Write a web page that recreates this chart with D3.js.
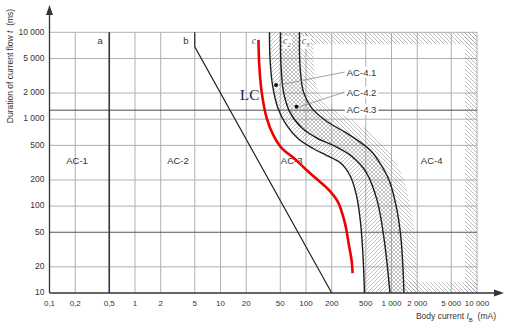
<!DOCTYPE html>
<html><head><meta charset="utf-8">
<script src="https://cdn.jsdelivr.net/npm/d3@7"></script>
<style>body{margin:0;background:#fff} svg{display:block}</style>
</head><body>
<svg id="chart" width="510" height="327"></svg>
<script>
// ---------- data ----------
const xTicks = [0.1,0.2,0.5,1,2,5,10,20,50,100,200,500,1000,2000,5000,10000];
const xTickLabels = ["0,1","0,2","0,5","1","2","5","10","20","50","100","200","500","1 000","2 000","5 000","10 000"];
const yTicks = [10,20,50,100,200,500,1000,2000,5000,10000];
const yTickLabels = ["10","20","50","100","200","500","1 000","2 000","5 000","10 000"];

const curveA = [[0.5,10],[0.5,10000]];
const curveB = [[5,10000],[5,6800],[200,10]];
const curveC1 = [[37.4,10000],[37.9,5060],[40.6,2470],[47,1340],[59.2,855],[80.5,600],[121,460],[176,382],[250,317],[327,225],[390,132],[434,65],[464,27],[483,10]];
const curveC2 = [[50.3,10000],[51,4200],[54.6,2050],[65,1200],[89.8,790],[134,607],[218,490],[341,376],[504,246],[677,117],[817,42.5],[960,10]];
const curveC3 = [[84,10000],[85,4200],[93.5,2050],[117,1340],[176,940],[286,710],[429,545],[592,420],[754,298],[935,200],[1130,102],[1291,42.5],[1400,10]];
const curveLC = [[27.8,8150],[28.4,4200],[30.3,2050],[34.7,1030],[41.5,656],[52,465],[72.5,356],[102,259],[140,197],[185,154],[236,112],[284,65],[318,35.5],[341,23.9],[351,16.9]];

const refLineT = 1270;
const zoneNames = ["AC-1","AC-2","AC-3","AC-4"];
const zoneAt = [[0.21,329],[3.18,329],[68,329],[2950,329]];
const curveNames = ["a","b"];
const curveNameAt = [[0.39,7900],[3.95,7900]];
const cNames = [["c",""],["c","2"],["c","3"]];
const cNameAt = [[24.7,7300],[60,7300],[99,7300]];
const subZoneNames = ["AC-4.1","AC-4.2","AC-4.3"];
const subZoneAt = [[300,3400],[300,2000],[300,1270]];
const subZoneDots = [[44.6,2470],[77.6,1390],null];
const lcLabel = "LC";
const lcAt = [16.9,1660];

// ---------- setup ----------
const svg = d3.select("#chart");
const x = d3.scaleLog().domain([0.1,10000]).range([49.5,477]);
const y = d3.scaleLog().domain([10,10000]).range([293,32.3]);
const X0 = x(0.1), X1 = x(10000), Y0 = y(10), Y1 = y(10000);
const sans = "'Liberation Sans', Arial, sans-serif";
const serif = "'Liberation Serif', 'Times New Roman', serif";

svg.append("rect").attr("width",510).attr("height",327).attr("fill","#fff");

const defs = svg.append("defs");
function pattern(id, d){
  const p = defs.append("pattern").attr("id",id).attr("patternUnits","userSpaceOnUse")
    .attr("width",4).attr("height",4);
  p.append("path").attr("d",d).attr("stroke","#8c8c8c").attr("stroke-width",0.55).attr("fill","none");
}
const fwd = "M-1,1L1,-1M0,4L4,0M3,5L5,3";
const back = "M-1,3L1,5M0,0L4,4M3,-1L5,1";
pattern("hFwd", fwd);
pattern("hBack", back);
pattern("hCross", fwd + back);

const line = d3.line().x(d=>x(d[0])).y(d=>y(d[1])).curve(d3.curveCatmullRom.alpha(0.5));
const lineLin = d3.line().x(d=>x(d[0])).y(d=>y(d[1]));

// ---------- grid ----------
const g = svg.append("g");
g.selectAll(".vx").data(xTicks.filter(v=>v>0.1)).join("line")
  .attr("x1",d=>x(d)).attr("x2",d=>x(d)).attr("y1",Y0).attr("y2",Y1)
  .attr("stroke","#b0b0b0").attr("stroke-width",1);
g.selectAll(".hy").data(yTicks.filter(v=>v>10)).join("line")
  .attr("y1",d=>y(d)).attr("y2",d=>y(d)).attr("x1",X0).attr("x2",X1)
  .attr("stroke",d=>d===50?"#555":"#b0b0b0").attr("stroke-width",1);
g.append("line").attr("x1",X0).attr("x2",X1).attr("y1",y(refLineT)).attr("y2",y(refLineT))
  .attr("stroke","#4a4a4a").attr("stroke-width",1);

// ---------- hatched zones ----------
function revPath(pts){ return line(pts.slice().reverse()).replace(/^M/,"L"); }
svg.append("path").attr("d", line(curveC1) + revPath(curveC2) + "Z").attr("fill","url(#hFwd)");
svg.append("path").attr("d", line(curveC2) + revPath(curveC3) + "Z").attr("fill","url(#hCross)");

defs.append("clipPath").attr("id","rightC3").append("path")
  .attr("d", line(curveC3) + `L${X1},${Y0}L${X1},${Y1}Z`);
const ac4 = svg.append("g").attr("clip-path","url(#rightC3)");
ac4.append("path").attr("d", line(curveC3)).attr("fill","none")
  .attr("stroke","url(#hBack)").attr("stroke-width",28);
ac4.append("rect").attr("x",X0).attr("y",Y1).attr("width",X1-X0).attr("height",12).attr("fill","url(#hBack)");
ac4.append("rect").attr("x",X1-12).attr("y",Y1).attr("width",12).attr("height",Y0-Y1).attr("fill","url(#hBack)");
ac4.append("rect").attr("x",X0).attr("y",Y0-11).attr("width",X1-X0).attr("height",11).attr("fill","url(#hBack)");

// ---------- c labels (with white knock-out) ----------
cNames.forEach((c,i)=>{
  const t = svg.append("text").attr("x",x(cNameAt[i][0])).attr("y",y(cNameAt[i][1]))
    .attr("text-anchor","middle").attr("font-family",serif).attr("font-style","italic")
    .attr("font-size",10).attr("fill","#555");
  t.append("tspan").text(c[0]);
  if (c[1]) t.append("tspan").attr("dy",2.5).attr("font-size",7).text(c[1]);
  if (c[1]) {
    const bb = t.node().getBBox();
    svg.insert("rect", () => t.node()).attr("x",bb.x-0.5).attr("y",bb.y+1).attr("width",bb.width+1).attr("height",bb.height-1).attr("fill","#fff");
  }
});

// ---------- curves ----------
svg.append("path").attr("d",lineLin(curveA)).attr("stroke","#3a3a3a").attr("stroke-width",1.6).attr("fill","none");
svg.append("path").attr("d",lineLin(curveB)).attr("stroke","#222").attr("stroke-width",1.2).attr("fill","none");
[curveC1,curveC2,curveC3].forEach(c=>{
  svg.append("path").attr("d",line(c)).attr("stroke","#1e1e1e").attr("stroke-width",1.4).attr("fill","none");
});

// ---------- zone labels ----------
svg.selectAll(".zone").data(zoneNames).join("text")
  .attr("x",(d,i)=>x(zoneAt[i][0])).attr("y",(d,i)=>y(zoneAt[i][1]))
  .attr("text-anchor","middle").attr("dominant-baseline","middle")
  .attr("font-family",sans).attr("font-size",9.5).attr("fill","#333").text(d=>d);

// red LC curve (over AC-3 label)
svg.append("path").attr("d",line(curveLC)).attr("stroke","#ee0000").attr("stroke-width",2.6)
  .attr("fill","none").attr("stroke-linecap","butt");

svg.selectAll(".cn").data(curveNames).join("text")
  .attr("x",(d,i)=>x(curveNameAt[i][0])).attr("y",(d,i)=>y(curveNameAt[i][1]))
  .attr("text-anchor","middle").attr("dominant-baseline","middle")
  .attr("font-family",sans).attr("font-size",9.5).attr("fill","#333").text(d=>d);

// sub zone labels with leaders
subZoneNames.forEach((name,i)=>{
  const tx = x(subZoneAt[i][0]), ty = y(subZoneAt[i][1]);
  const dot = subZoneDots[i];
  if (dot){
    svg.append("line").attr("x1",tx-2).attr("y1",ty-1).attr("x2",x(dot[0])+3).attr("y2",y(dot[1]))
      .attr("stroke","#8a8a8a").attr("stroke-width",0.8);
    svg.append("circle").attr("cx",x(dot[0])).attr("cy",y(dot[1])).attr("r",2).attr("fill","#111");
  }
  const t = svg.append("text").attr("x",tx).attr("y",ty).attr("dominant-baseline","middle")
    .attr("font-family",sans).attr("font-size",9.5).attr("fill","#333").text(name);
  const bb = t.node().getBBox();
  svg.insert("rect", () => t.node()).attr("x",bb.x-2).attr("y",bb.y).attr("width",bb.width+4).attr("height",bb.height).attr("fill","#fff");
});

svg.append("text").attr("x",x(lcAt[0])).attr("y",y(lcAt[1]))
  .attr("font-family",serif).attr("font-size",15).attr("fill","#14204a").text(lcLabel);

// ---------- axes ----------
svg.append("line").attr("x1",X0).attr("x2",501).attr("y1",Y0).attr("y2",Y0).attr("stroke","#333").attr("stroke-width",1.3);
svg.append("path").attr("d",`M504,${Y0}L494,${Y0-3.5}L494,${Y0+3.5}Z`).attr("fill","#333");
svg.append("line").attr("x1",X0).attr("x2",X0).attr("y1",Y0).attr("y2",9).attr("stroke","#333").attr("stroke-width",1.3);
svg.append("path").attr("d",`M${X0},5L${X0-3.5},15L${X0+3.5},15Z`).attr("fill","#333");

svg.selectAll(".xt").data(xTicks).join("text")
  .attr("x",d=>x(d)).attr("y",Y0+11).attr("text-anchor","middle").attr("dominant-baseline","middle")
  .attr("font-family",sans).attr("font-size",8).attr("fill","#333").text((d,i)=>xTickLabels[i]);
svg.selectAll(".yt").data(yTicks).join("text")
  .attr("x",X0-5).attr("y",d=>y(d)).attr("text-anchor","end").attr("dominant-baseline","middle")
  .attr("font-family",sans).attr("font-size",8.5).attr("fill","#333").text((d,i)=>yTickLabels[i]);

const yt = svg.append("text").attr("transform","translate(11,66) rotate(-90)").attr("text-anchor","middle")
  .attr("dominant-baseline","middle").attr("font-family",sans).attr("font-size",8.5).attr("fill","#333");
yt.append("tspan").text("Duration of current flow ");
yt.append("tspan").attr("font-style","italic").text("t");
yt.append("tspan").text("\u00a0\u00a0(ms)");

const xt = svg.append("text").attr("x",496).attr("y",319).attr("text-anchor","end")
  .attr("font-family",sans).attr("font-size",8.5).attr("fill","#333");
xt.append("tspan").text("Body current ");
xt.append("tspan").attr("font-style","italic").text("I");
xt.append("tspan").attr("dy",2.5).attr("font-size",6).text("B");
xt.append("tspan").attr("dy",-2.5).text("\u00a0\u00a0(mA)");
</script>
</body></html>
